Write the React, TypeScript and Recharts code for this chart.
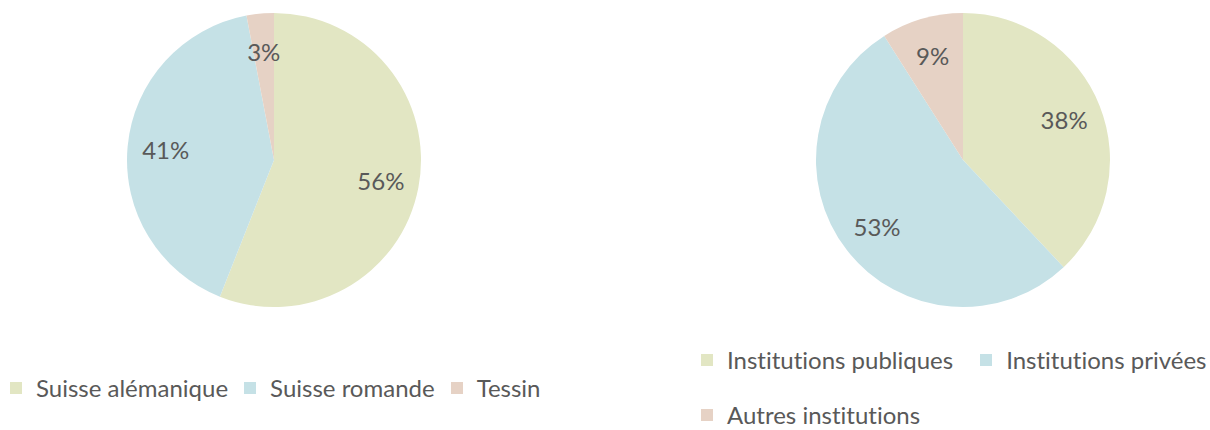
import { PieChart, Pie, Cell } from 'recharts';

// left pie: by language region
const regionNames = ['Suisse alémanique', 'Suisse romande', 'Tessin'];
const regionValues = [56, 41, 3];

// right pie: by institution type
const institutionNames = ['Institutions publiques', 'Institutions privées', 'Autres institutions'];
const institutionValues = [38, 53, 9];

const colors = ['#E2E6C3', '#C5E1E6', '#E6D2C5'];
const textColor = '#595959';
const font = 'Lato, "Noto Sans", sans-serif';

const RAD = Math.PI / 180;

function renderLabel(props: any) {
  const { cx, cy, midAngle, outerRadius, value } = props;
  const r = outerRadius * 0.74;
  const x = cx + r * Math.cos(-midAngle * RAD);
  const y = cy + r * Math.sin(-midAngle * RAD);
  return (
    <text x={x} y={y} fill={textColor} fontSize={24} fontFamily={font}
      style={{ fontVariantLigatures: 'none' }}
      textAnchor="middle" dominantBaseline="central">
      {value}%
    </text>
  );
}

function LegendRow({ names, gap, style }: { names: string[]; gap: number; style: React.CSSProperties }) {
  return (
    <div style={{ position: 'absolute', display: 'flex', flexWrap: 'wrap', columnGap: gap, rowGap: 35, fontFamily: font,
      fontSize: 24, lineHeight: '20px', color: textColor, fontVariantLigatures: 'none', ...style }}>
      {names.map((n, i) => (
        <div key={n} style={{ display: 'flex', alignItems: 'center', height: 20 }}>
          <span style={{ width: 12, height: 12, background: colors[i], marginRight: 14, display: 'inline-block' }} />
          <span>{n}</span>
        </div>
      ))}
    </div>
  );
}

export default function App() {
  const left = regionNames.map((name, i) => ({ name, value: regionValues[i] }));
  const right = institutionNames.map((name, i) => ({ name, value: institutionValues[i] }));
  return (
    <div style={{ position: 'absolute', left: 0, top: 0, width: 1210, height: 430, background: '#fff', overflow: 'hidden' }}>
      <div style={{ position: 'absolute', left: 0, top: 0 }}>
        <PieChart width={605} height={320} margin={{ top: 0, right: 0, bottom: 0, left: 0 }}>
          <Pie data={left} dataKey="value" nameKey="name" cx={274} cy={160} outerRadius={147}
            startAngle={90} endAngle={-270} stroke="none" label={renderLabel} labelLine={false}
            isAnimationActive={false}>
            {left.map((d, i) => <Cell key={d.name} fill={colors[i]} />)}
          </Pie>
        </PieChart>
      </div>
      <div style={{ position: 'absolute', left: 605, top: 0 }}>
        <PieChart width={605} height={320} margin={{ top: 0, right: 0, bottom: 0, left: 0 }}>
          <Pie data={right} dataKey="value" nameKey="name" cx={358} cy={160} outerRadius={147}
            startAngle={90} endAngle={-270} stroke="none" label={renderLabel} labelLine={false}
            isAnimationActive={false}>
            {right.map((d, i) => <Cell key={d.name} fill={colors[i]} />)}
          </Pie>
        </PieChart>
      </div>
      <LegendRow names={regionNames} gap={16} style={{ left: 10, top: 378, width: 600 }} />
      <LegendRow names={institutionNames} gap={27} style={{ left: 701, top: 350, width: 509 }} />
    </div>
  );
}
